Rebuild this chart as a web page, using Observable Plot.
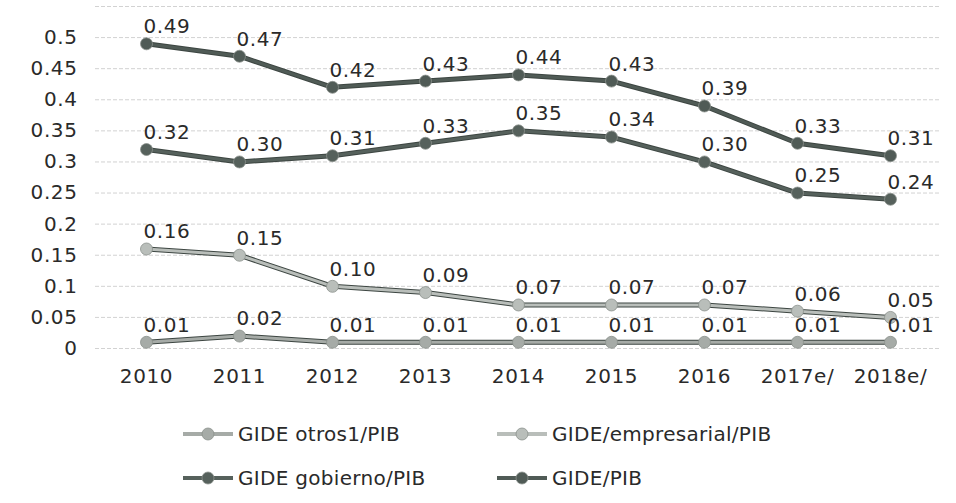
<!DOCTYPE html>
<html><head><meta charset="utf-8">
<script src="https://cdn.jsdelivr.net/npm/d3@7"></script>
<script src="https://cdn.jsdelivr.net/npm/@observablehq/plot@0.6"></script>
<style>
body{margin:0;background:#fff;font-family:"DejaVu Sans",sans-serif;}
#legend{position:relative;width:956px;height:103px;font-size:20px;color:#2a2a2a;letter-spacing:0.3px;}
.item{position:absolute;display:flex;align-items:center;}
.item svg{margin-right:3px;}
#chart svg text{letter-spacing:0.6px;}
</style></head><body>
<div id="chart"></div>
<div id="legend"></div>
<script>
const years = ["2010","2011","2012","2013","2014","2015","2016","2017e/","2018e/"];
const seriesNames = ["GIDE otros1/PIB","GIDE/empresarial/PIB","GIDE gobierno/PIB","GIDE/PIB"];
const otros = [0.01,0.02,0.01,0.01,0.01,0.01,0.01,0.01,0.01];
const empresarial = [0.16,0.15,0.10,0.09,0.07,0.07,0.07,0.06,0.05];
const gobierno = [0.32,0.30,0.31,0.33,0.35,0.34,0.30,0.25,0.24];
const total = [0.49,0.47,0.42,0.43,0.44,0.43,0.39,0.33,0.31];
const yTicks = [0,0.05,0.1,0.15,0.2,0.25,0.3,0.35,0.4,0.45,0.5];
const gridTicks = [0,0.05,0.1,0.15,0.2,0.25,0.3,0.35,0.4,0.45,0.5,0.55];
const colors = ["#a6aba7","#b9beba","#56615c","#505b56"];

const values = [otros, empresarial, gobierno, total];
const data = [];
values.forEach((arr, s) => arr.forEach((v, i) => data.push({series: seriesNames[s], year: years[i], value: v})));
const fmt = d3.format(".2f");

const chart = Plot.plot({
  width: 956, height: 400,
  marginLeft: 95, marginRight: 16, marginTop: 6, marginBottom: 52,
  style: {fontFamily: "DejaVu Sans, sans-serif", fontSize: "20px", color: "#2a2a2a", background: "#fff"},
  x: {type: "point", domain: years, padding: 0.5, label: null},
  y: {domain: [0, 0.55], label: null},
  color: {domain: seriesNames, range: colors},
  marks: [
    Plot.ruleY(gridTicks, {stroke: "#d2d2d2", strokeWidth: 1, strokeDasharray: "4,2"}),
    Plot.axisY(yTicks, {tickSize: 0, tickPadding: 18, tickFormat: d => String(d), fontSize: 20}),
    Plot.axisX({tickSize: 0, tickPadding: 20, fontSize: 20}),
    Plot.line(data, {x: "year", y: "value", z: "series", stroke: "#3d4642", strokeWidth: 5}),
    Plot.line(data, {x: "year", y: "value", z: "series", stroke: "series", strokeWidth: 3}),
    Plot.dot(data, {x: "year", y: "value", fill: "series", r: 6, stroke: "#8a908c", strokeWidth: 0.8}),
    Plot.text(data, {x: "year", y: "value", text: d => fmt(d.value), textAnchor: "start", dx: -3, dy: -17, fontSize: 20, fill: "#2a2a2a"})
  ]
});
document.getElementById("chart").appendChild(chart);

const legend = document.getElementById("legend");
const pos = [[181, 34], [495, 34], [181, 78], [495, 78]];
seriesNames.forEach((name, i) => {
  const div = document.createElement("div");
  div.className = "item";
  div.style.left = pos[i][0] + "px";
  div.style.top = (pos[i][1] - 12) + "px";
  div.innerHTML = `<svg width="54" height="24"><line x1="2" x2="52" y1="12" y2="12" stroke="${colors[i]}" stroke-width="4"/><circle cx="27" cy="12" r="6" fill="${colors[i]}" stroke="#8a908c" stroke-width="0.8"/></svg><span>${name}</span>`;
  legend.appendChild(div);
});
</script>
</body></html>
